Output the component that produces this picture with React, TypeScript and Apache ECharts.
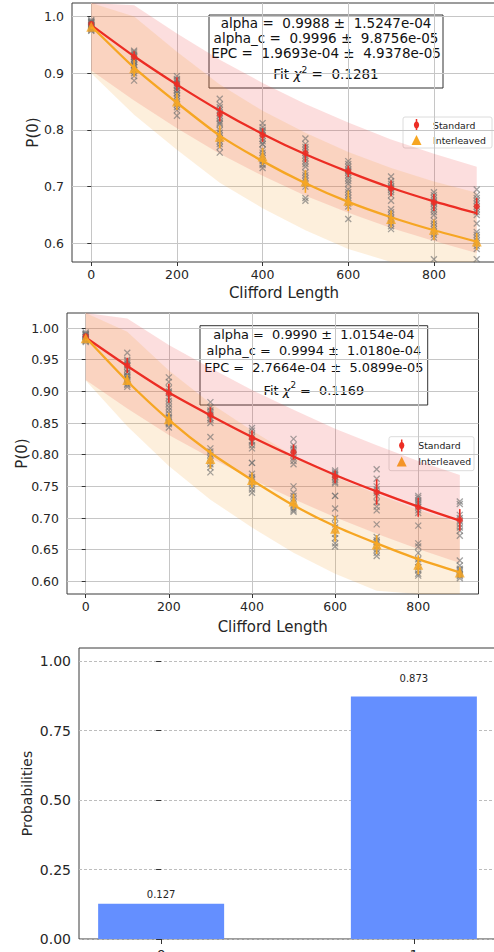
import React, { useEffect, useRef } from "react";
import * as echarts from "echarts";

const FONT = "DejaVu Sans";
const RED = "#ec2d24";
const ORANGE = "#f6a623";
const GRAY = "rgba(112,112,112,0.8)";
const NB = "\u00a0";

const lengths = [0, 100, 200, 300, 400, 500, 600, 700, 800, 900];

// ---------- Panel 1 ----------
const p1StdFit = [0.985, 0.930, 0.880, 0.834, 0.793, 0.757, 0.726, 0.698, 0.674, 0.653];
const p1StdMean = [0.987, 0.929, 0.881, 0.828, 0.791, 0.759, 0.727, 0.697, 0.672, 0.665];
const p1StdErr = [0.004, 0.010, 0.012, 0.013, 0.012, 0.016, 0.010, 0.014, 0.015, 0.015];
const p1StdUpper = [1.075, 1.020, 0.970, 0.924, 0.883, 0.846, 0.813, 0.783, 0.758, 0.735];
const p1StdLower = [0.905, 0.852, 0.803, 0.758, 0.719, 0.684, 0.654, 0.627, 0.604, 0.583];
const p1IntFit = [0.983, 0.910, 0.848, 0.790, 0.745, 0.706, 0.673, 0.646, 0.623, 0.603];
const p1IntMean = [0.982, 0.909, 0.850, 0.788, 0.753, 0.709, 0.675, 0.643, 0.624, 0.603];
const p1IntErr = [0.004, 0.015, 0.015, 0.020, 0.015, 0.020, 0.018, 0.015, 0.018, 0.015];
const p1IntUpper = [1.073, 1.000, 0.938, 0.880, 0.834, 0.795, 0.761, 0.733, 0.709, 0.689];
const p1IntLower = [0.900, 0.827, 0.765, 0.707, 0.662, 0.623, 0.590, 0.563, 0.540, 0.520];
const p1StdSeeds = [
  [0.992, 0.988, 0.985, 0.990, 0.983, 0.994, 0.987, 0.980, 0.991],
  [0.938, 0.932, 0.925, 0.935, 0.920, 0.928, 0.915, 0.940, 0.930],
  [0.895, 0.888, 0.875, 0.890, 0.870, 0.882, 0.865, 0.885, 0.878],
  [0.855, 0.840, 0.825, 0.835, 0.815, 0.830, 0.820, 0.845, 0.812],
  [0.812, 0.800, 0.790, 0.795, 0.780, 0.805, 0.775, 0.785, 0.798],
  [0.785, 0.770, 0.760, 0.750, 0.765, 0.745, 0.755, 0.740, 0.775],
  [0.745, 0.735, 0.725, 0.730, 0.715, 0.720, 0.740, 0.710, 0.728],
  [0.718, 0.705, 0.695, 0.700, 0.690, 0.710, 0.685, 0.675, 0.698],
  [0.690, 0.680, 0.670, 0.675, 0.660, 0.685, 0.665, 0.655, 0.672],
  [0.695, 0.680, 0.670, 0.660, 0.665, 0.675, 0.650, 0.655, 0.685],
];
const p1IntSeeds = [
  [0.990, 0.985, 0.978, 0.982, 0.975, 0.988, 0.980, 0.984, 0.976],
  [0.925, 0.915, 0.905, 0.910, 0.900, 0.887, 0.920, 0.895, 0.912],
  [0.870, 0.860, 0.845, 0.850, 0.835, 0.825, 0.855, 0.840, 0.865],
  [0.810, 0.800, 0.790, 0.785, 0.775, 0.760, 0.770, 0.795, 0.780],
  [0.775, 0.765, 0.755, 0.745, 0.740, 0.733, 0.760, 0.750, 0.738],
  [0.735, 0.725, 0.715, 0.710, 0.700, 0.680, 0.675, 0.705, 0.720],
  [0.705, 0.695, 0.685, 0.675, 0.670, 0.665, 0.643, 0.680, 0.690],
  [0.660, 0.655, 0.645, 0.640, 0.635, 0.630, 0.625, 0.650, 0.642],
  [0.650, 0.640, 0.630, 0.625, 0.620, 0.615, 0.610, 0.572, 0.635],
  [0.635, 0.620, 0.610, 0.605, 0.600, 0.595, 0.590, 0.572, 0.615],
];
const p1Text = [
  `alpha =${NB} 0.9988 \u00b1${NB} 1.5247e-04`,
  `alpha_c =${NB} 0.9996 \u00b1${NB} 9.8756e-05`,
  `EPC =${NB} 1.9693e-04 \u00b1${NB} 4.9378e-05`,
];
const p1Chi = "0.1281";

// ---------- Panel 2 ----------
const p2StdFit = [0.985, 0.940, 0.898, 0.862, 0.828, 0.797, 0.768, 0.742, 0.718, 0.696];
const p2StdMean = [0.987, 0.941, 0.897, 0.863, 0.826, 0.804, 0.765, 0.741, 0.717, 0.697];
const p2StdErr = [0.004, 0.012, 0.015, 0.012, 0.012, 0.012, 0.010, 0.020, 0.015, 0.017];
const p2StdUpper = [1.060, 1.015, 0.973, 0.937, 0.902, 0.871, 0.841, 0.815, 0.790, 0.768];
const p2StdLower = [0.918, 0.873, 0.831, 0.795, 0.761, 0.730, 0.701, 0.675, 0.651, 0.629];
const p2IntFit = [0.985, 0.916, 0.855, 0.803, 0.760, 0.720, 0.687, 0.660, 0.635, 0.614];
const p2IntMean = [0.984, 0.918, 0.856, 0.793, 0.760, 0.726, 0.683, 0.658, 0.626, 0.614];
const p2IntErr = [0.004, 0.008, 0.010, 0.015, 0.012, 0.012, 0.020, 0.015, 0.015, 0.008];
const p2IntUpper = [1.063, 0.994, 0.933, 0.881, 0.838, 0.798, 0.765, 0.738, 0.713, 0.692];
const p2IntLower = [0.917, 0.845, 0.782, 0.729, 0.685, 0.645, 0.612, 0.585, 0.560, 0.539];
const p2StdSeeds = [
  [0.993, 0.990, 0.985, 0.988, 0.982, 0.991, 0.986, 0.980, 0.989],
  [0.961, 0.950, 0.945, 0.940, 0.935, 0.930, 0.942, 0.925, 0.948],
  [0.922, 0.915, 0.905, 0.898, 0.890, 0.885, 0.880, 0.900, 0.875],
  [0.883, 0.875, 0.868, 0.862, 0.858, 0.855, 0.850, 0.865, 0.870],
  [0.842, 0.838, 0.832, 0.828, 0.822, 0.815, 0.810, 0.820, 0.787],
  [0.825, 0.815, 0.810, 0.805, 0.800, 0.795, 0.790, 0.785, 0.808],
  [0.775, 0.772, 0.768, 0.765, 0.760, 0.757, 0.755, 0.770, 0.735],
  [0.777, 0.762, 0.745, 0.740, 0.735, 0.725, 0.718, 0.712, 0.750],
  [0.735, 0.732, 0.728, 0.722, 0.718, 0.712, 0.708, 0.688, 0.725],
  [0.726, 0.722, 0.705, 0.700, 0.695, 0.690, 0.685, 0.680, 0.672],
];
const p2IntSeeds = [
  [0.990, 0.986, 0.982, 0.980, 0.985, 0.978, 0.988, 0.983, 0.981],
  [0.930, 0.925, 0.920, 0.918, 0.915, 0.912, 0.907, 0.922, 0.910],
  [0.870, 0.865, 0.860, 0.855, 0.850, 0.848, 0.843, 0.858, 0.852],
  [0.828, 0.810, 0.805, 0.800, 0.795, 0.790, 0.785, 0.772, 0.780],
  [0.787, 0.770, 0.765, 0.760, 0.755, 0.750, 0.745, 0.740, 0.762],
  [0.750, 0.740, 0.735, 0.730, 0.725, 0.720, 0.715, 0.710, 0.712],
  [0.735, 0.715, 0.700, 0.690, 0.685, 0.675, 0.668, 0.660, 0.655],
  [0.690, 0.670, 0.665, 0.660, 0.655, 0.650, 0.645, 0.640, 0.662],
  [0.660, 0.655, 0.645, 0.635, 0.630, 0.622, 0.618, 0.612, 0.609],
  [0.633, 0.625, 0.620, 0.615, 0.612, 0.610, 0.608, 0.605, 0.618],
];
const p2Text = [
  `alpha =${NB} 0.9990 \u00b1${NB} 1.0154e-04`,
  `alpha_c =${NB} 0.9994 \u00b1${NB} 1.0180e-04`,
  `EPC =${NB} 2.7664e-04 \u00b1${NB} 5.0899e-05`,
];
const p2Chi = "0.1169";

// ---------- Panel 3 ----------
const histStates = [0, 1];
const histLabels = ["0", "1"];
const histProbs = [0.127, 0.873];

const rbXTicks = [0, 200, 400, 600, 800];
const p1YTicks = [0.6, 0.7, 0.8, 0.9, 1.0];
const p2YTicks = [0.6, 0.65, 0.7, 0.75, 0.8, 0.85, 0.9, 0.95, 1.0];
const p3YTicks = [0, 0.25, 0.5, 0.75, 1.0];

const XSYM = "path://M0,0L10,10M10,0L0,10";

function rbSeries(g: number, d: any) {
  const ax = { xAxisIndex: g, yAxisIndex: g };
  const pts = (arr: number[]) => lengths.map((x, i) => [x, arr[i]]);
  const seeds = (s: number[][]) => {
    const out: number[][] = [];
    s.forEach((col, i) => col.forEach((v) => out.push([lengths[i], v])));
    return out;
  };
  const err = (m: number[], e: number[]) => lengths.map((x, i) => [x, m[i], e[i]]);
  const errBar = (color: string, data: number[][]) => ({
    type: "custom",
    ...ax,
    z: 4,
    data,
    encode: { x: 0, y: 1 },
    renderItem: (_p: any, api: any) => {
      const x = api.value(0), m = api.value(1), s = api.value(2);
      const a = api.coord([x, m - s]);
      const b = api.coord([x, m + s]);
      return {
        type: "line",
        shape: { x1: a[0], y1: a[1], x2: b[0], y2: b[1] },
        style: { stroke: color, lineWidth: 1.6 },
      };
    },
  });
  const band = (up: number[], lo: number[], color: string) => {
    const data = lengths.map((x, i) => [x, up[i], lo[i]]);
    return {
      type: "custom",
      ...ax,
      z: 1,
      silent: true,
      clip: true,
      data,
      encode: { x: 0, y: [1, 2] },
      renderItem: (params: any, api: any) => {
        if (params.dataIndex !== 0) return null;
        const top = data.map((r) => api.coord([r[0], r[1]]));
        const bot = data.map((r) => api.coord([r[0], r[2]])).reverse();
        const cs = params.coordSys;
        const pts = echarts.graphic.clipPointsByRect(top.concat(bot), {
          x: cs.x, y: cs.y, width: cs.width, height: cs.height,
        } as any);
        return { type: "polygon", shape: { points: pts }, style: { fill: color, stroke: "none" } };
      },
    };
  };
  return [
    band(d.stdUp, d.stdLo, "rgba(236,60,60,0.17)"),
    band(d.intUp, d.intLo, "rgba(246,158,45,0.17)"),
    {
      type: "scatter", ...ax, z: 3, data: seeds(d.stdSeeds), symbol: XSYM, symbolSize: 6,
      itemStyle: { color: "none", borderColor: GRAY, borderWidth: 1.3 },
    },
    {
      type: "scatter", ...ax, z: 3, data: seeds(d.intSeeds), symbol: XSYM, symbolSize: 6,
      itemStyle: { color: "none", borderColor: GRAY, borderWidth: 1.3 },
    },
    errBar(RED, err(d.stdMean, d.stdErr)),
    errBar(ORANGE, err(d.intMean, d.intErr)),
    {
      type: "line", ...ax, z: 5, data: pts(d.stdFit), symbol: "none", smooth: 0.2,
      lineStyle: { color: RED, width: 2.3 },
    },
    {
      type: "line", ...ax, z: 5, data: pts(d.intFit), symbol: "none", smooth: 0.2,
      lineStyle: { color: ORANGE, width: 2.3 },
    },
    {
      name: "Standard", type: "scatter", ...ax, z: 6, data: pts(d.stdMean), symbol: "circle",
      symbolSize: 6, itemStyle: { color: RED },
    },
    {
      name: "Interleaved", type: "scatter", ...ax, z: 6, data: pts(d.intMean), symbol: "triangle",
      symbolSize: 10, itemStyle: { color: ORANGE },
    },
  ];
}

function rbAxes(g: number, yMin: number, yMax: number, yTicks: number[], digits: number, nameGapY: number, nameGapX: number) {
  const xAxis = {
    gridIndex: g, type: "value", min: -45, max: 945,
    axisLine: { show: false },
    axisTick: { show: true, length: 4, customValues: rbXTicks, lineStyle: { color: "#333" } },
    axisLabel: { customValues: rbXTicks, fontSize: 12.5, color: "#262626", margin: 6, fontFamily: FONT },
    splitLine: { show: true, lineStyle: { color: "#c6c6c6", width: 1 } },
    name: "Clifford Length", nameLocation: "middle", nameGap: nameGapX, nameMoveOverlap: false,
    nameTextStyle: { fontSize: 15, color: "#262626", fontFamily: FONT },
  };
  const yAxis = {
    gridIndex: g, type: "value", min: yMin, max: yMax,
    axisLine: { show: false },
    axisTick: { show: true, length: 4, customValues: yTicks, lineStyle: { color: "#333" } },
    axisLabel: {
      customValues: yTicks, fontSize: 12.5, color: "#262626", margin: 8, fontFamily: FONT,
      formatter: (v: number) => v.toFixed(digits),
    },
    splitLine: { show: true, lineStyle: { color: "#c6c6c6", width: 1 } },
    name: "P(0)", nameLocation: "middle", nameGap: nameGapY, nameMoveOverlap: false,
    nameTextStyle: { fontSize: 15, color: "#262626", fontFamily: FONT },
  };
  return { xAxis, yAxis };
}

function infoBox(x: number, y: number, w: number, h: number, lines: string[], chi: string, ys: number[], fs: number) {
  const cx = x + w / 2;
  const children: any[] = [
    { type: "rect", shape: { x, y, width: w, height: h }, style: { fill: "#fff", stroke: "#333", lineWidth: 1 } },
  ];
  lines.forEach((t, i) => {
    children.push({
      type: "text", x: cx, y: ys[i],
      style: { text: t, font: `${fs}px '${FONT}'`, fill: "#111", align: "center", verticalAlign: "middle" },
    });
  });
  children.push({
    type: "text", x: cx, y: ys[3],
    style: {
      text: `{n|Fit }{i|\u03c7}{s|2}{n| =${NB} ${chi}}`,
      font: `${fs}px '${FONT}'`, fill: "#111", align: "center", verticalAlign: "middle",
      rich: {
        n: { fontSize: fs, fontFamily: FONT, lineHeight: 16, verticalAlign: "bottom", fill: "#111" },
        i: { fontStyle: "italic", fontSize: fs, fontFamily: FONT, lineHeight: 16, verticalAlign: "bottom", fill: "#111" },
        s: { fontSize: fs * 0.68, fontFamily: FONT, lineHeight: 16, verticalAlign: "top", fill: "#111" },
      },
    },
  });
  return { type: "group", z: 100, children };
}

function legendBox(x: number, y: number, w: number, h: number, ix: number, ty1: number, ty2: number, tx: number) {
  return {
    type: "group", z: 100,
    children: [
      { type: "rect", shape: { x, y, width: w, height: h, r: 2 }, style: { fill: "rgba(255,255,255,0.85)", stroke: "#dcdcdc", lineWidth: 1 } },
      { type: "line", shape: { x1: ix, y1: ty1 - 6, x2: ix, y2: ty1 + 6 }, style: { stroke: RED, lineWidth: 1.5 } },
      { type: "ellipse", shape: { cx: ix, cy: ty1, rx: 2.6, ry: 3.4 }, style: { fill: RED } },
      { type: "polygon", shape: { points: [[ix - 5, ty2 + 5], [ix + 5, ty2 + 5], [ix, ty2 - 5]] }, style: { fill: ORANGE } },
      { type: "text", x: tx, y: ty1, style: { text: "Standard", font: `9.3px '${FONT}'`, fill: "#222", verticalAlign: "middle" } },
      { type: "text", x: tx, y: ty2, style: { text: "Interleaved", font: `9.3px '${FONT}'`, fill: "#222", verticalAlign: "middle" } },
    ],
  };
}

export default function App() {
  const ref = useRef<HTMLDivElement>(null);
  useEffect(() => {
    if (!ref.current) return;
    const chart = echarts.init(ref.current, undefined, { renderer: "svg" });
    const a1 = rbAxes(0, 0.567, 1.024, p1YTicks, 1, 31.5, 23);
    const a2 = rbAxes(1, 0.58, 1.0237, p2YTicks, 2, 37.8, 25);
    const d1 = {
      stdFit: p1StdFit, stdMean: p1StdMean, stdErr: p1StdErr, stdUp: p1StdUpper, stdLo: p1StdLower,
      intFit: p1IntFit, intMean: p1IntMean, intErr: p1IntErr, intUp: p1IntUpper, intLo: p1IntLower,
      stdSeeds: p1StdSeeds, intSeeds: p1IntSeeds,
    };
    const d2 = {
      stdFit: p2StdFit, stdMean: p2StdMean, stdErr: p2StdErr, stdUp: p2StdUpper, stdLo: p2StdLower,
      intFit: p2IntFit, intMean: p2IntMean, intErr: p2IntErr, intUp: p2IntUpper, intLo: p2IntLower,
      stdSeeds: p2StdSeeds, intSeeds: p2IntSeeds,
    };
    const option: any = {
      animation: false,
      backgroundColor: "#fff",
      textStyle: { fontFamily: FONT },
      grid: [
        { left: 72, top: 3, width: 424, height: 259, show: true, borderColor: "#3a3a3a", borderWidth: 1, backgroundColor: "transparent", outerBoundsMode: "none" },
        { left: 67, top: 313, width: 411.5, height: 281, show: true, borderColor: "#3a3a3a", borderWidth: 1, backgroundColor: "transparent", outerBoundsMode: "none" },
        { left: 79, top: 648, width: 417, height: 291, show: true, borderColor: "#3a3a3a", borderWidth: 1, backgroundColor: "transparent", outerBoundsMode: "none" },
      ],
      xAxis: [
        a1.xAxis,
        a2.xAxis,
        {
          gridIndex: 2, type: "value", min: -0.325, max: 1.325,
          axisLine: { show: false },
          axisTick: { show: true, length: 5, customValues: histStates, lineStyle: { color: "#333" } },
          axisLabel: {
            customValues: histStates, fontSize: 14, color: "#262626", margin: 9, fontFamily: FONT,
            formatter: (v: number) => histLabels[histStates.indexOf(v)] ?? "",
          },
          splitLine: { show: false },
        },
      ],
      yAxis: [
        a1.yAxis,
        a2.yAxis,
        {
          gridIndex: 2, type: "value", min: 0, max: 1.048,
          axisLine: { show: false },
          axisTick: { show: true, length: 5, customValues: p3YTicks, lineStyle: { color: "#333" } },
          axisLabel: {
            customValues: p3YTicks, fontSize: 14, color: "#262626", margin: 8, fontFamily: FONT,
            formatter: (v: number) => v.toFixed(2),
          },
          splitLine: { show: true, lineStyle: { color: "#bdbdbd", type: [3, 2], width: 1 } },
          name: "Probabilities", nameLocation: "middle", nameGap: 45.3, nameMoveOverlap: false,
          nameTextStyle: { fontSize: 14, color: "#262626", fontFamily: FONT },
        },
      ],
      series: [
        ...rbSeries(0, d1),
        ...rbSeries(1, d2),
        {
          type: "bar", xAxisIndex: 2, yAxisIndex: 2, barWidth: 126,
          data: histStates.map((s, i) => ({
            value: [s, histProbs[i]],
            label: { distance: i === 0 ? 4 : 13 },
          })),
          itemStyle: { color: "#648fff" },
          label: {
            show: true, position: "top", fontSize: 10, color: "#262626", fontFamily: FONT,
            formatter: (p: any) => p.value[1].toFixed(3),
          },
        },
      ],
      graphic: [
        infoBox(209, 15, 234, 73, p1Text, p1Chi, [22.5, 37.5, 52.5, 73], 13.5),
        infoBox(200, 325.7, 227.7, 79.3, p2Text, p2Chi, [334, 350.5, 367, 388.5], 12.9),
        legendBox(403, 117, 89, 31, 416.5, 125, 140, 433),
        legendBox(389, 436.7, 85, 34, 401.7, 445.5, 461.5, 418.3),
      ],
    };
    chart.setOption(option);
    return () => chart.dispose();
  }, []);
  return (
    <div style={{ position: "fixed", left: 0, top: 0, width: 494, height: 952, overflow: "hidden", background: "#fff" }}>
      <div ref={ref} style={{ width: 500, height: 990 }} />
    </div>
  );
}
